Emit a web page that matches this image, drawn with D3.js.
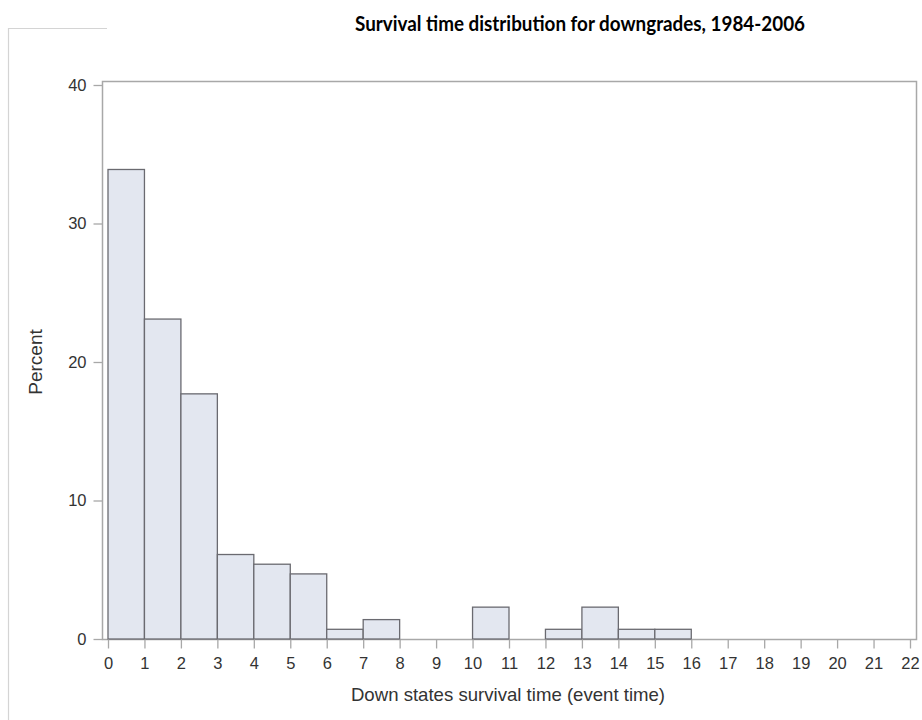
<!DOCTYPE html>
<html>
<head>
<meta charset="utf-8">
<script src="https://cdn.jsdelivr.net/npm/d3@7"></script>
<style>
  body { margin: 0; background: #fff; }
  svg { display: block; }
</style>
</head>
<body>
<div id="chart"></div>
<script>
// histogram bins (event time, years) and percent of downgrades in each bin
const binStart = [0, 1, 2, 3, 4, 5, 6, 7, 8, 9, 10, 11, 12, 13, 14, 15];
const percent = [33.9, 23.1, 17.7, 6.1, 5.4, 4.7, 0.7, 1.4, 0, 0, 2.3, 0, 0.7, 2.3, 0.7, 0.7];
const xTicks = d3.range(0, 23);
const yTicks = [0, 10, 20, 30, 40];

const width = 922;
const height = 720;
const frame = {left: 102, right: 916, top: 81, bottom: 639};
const labelFont = '"Liberation Sans", Arial, sans-serif';

let svg = d3.select('#chart').append('svg')
  .attr('width', width)
  .attr('height', height);

let x = d3.scaleLinear().domain([0, 22]).range([108, 910]);
let y = d3.scaleLinear().domain([0, 40]).range([639, 85]);

// leftover bits of the outer border
svg.append('path')
  .attr('d', 'M8.5,720V28.5H107')
  .attr('fill', 'none')
  .attr('stroke', '#d4d4d4')
  .attr('stroke-width', 1.2);

svg.append('text')
  .attr('x', 580)
  .attr('y', 31)
  .attr('text-anchor', 'middle')
  .attr('font-family', 'Lato, "Open Sans", sans-serif')
  .attr('font-weight', 'bold')
  .attr('font-size', 21)
  .attr('textLength', 450)
  .attr('lengthAdjust', 'spacingAndGlyphs')
  .attr('fill', '#000')
  .text('Survival time distribution for downgrades, 1984-2006');

svg.append('rect')
  .attr('x', frame.left + 0.5)
  .attr('y', frame.top + 0.5)
  .attr('width', frame.right - frame.left)
  .attr('height', frame.bottom - frame.top)
  .attr('fill', 'none')
  .attr('stroke', '#a8a8a8')
  .attr('stroke-width', 1.5);

let bars = binStart.map((s, i) => ({x0: s, x1: s + 1, v: percent[i]}))
  .filter(d => d.v > 0);

svg.append('g').selectAll('rect')
  .data(bars)
  .join('rect')
  .attr('x', d => x(d.x0))
  .attr('y', d => y(d.v))
  .attr('width', d => x(d.x1) - x(d.x0))
  .attr('height', d => y(0) - y(d.v))
  .attr('fill', '#e3e7f0')
  .attr('stroke', '#6a6a70')
  .attr('stroke-width', 1.3);

let xAxis = svg.append('g')
  .attr('transform', `translate(0,${frame.bottom + 0.5})`)
  .call(d3.axisBottom(x).tickValues(xTicks).tickSize(9).tickSizeOuter(0).tickPadding(9));

let yAxis = svg.append('g')
  .attr('transform', `translate(${frame.left + 0.5},0)`)
  .call(d3.axisLeft(y).tickValues(yTicks).tickSize(9).tickSizeOuter(0).tickPadding(7));

[xAxis, yAxis].forEach(g => {
  g.select('.domain').remove();
  g.selectAll('line').attr('stroke', '#a8a8a8').attr('stroke-width', 1.3);
  g.selectAll('text')
    .attr('font-family', labelFont)
    .attr('font-size', 16.5)
    .attr('fill', '#333');
});

svg.append('text')
  .attr('x', 508)
  .attr('y', 701)
  .attr('text-anchor', 'middle')
  .attr('font-family', labelFont)
  .attr('font-size', 18.6)
  .attr('fill', '#333')
  .text('Down states survival time (event time)');

svg.append('text')
  .attr('transform', 'translate(42,362) rotate(-90)')
  .attr('text-anchor', 'middle')
  .attr('font-family', labelFont)
  .attr('font-size', 19)
  .attr('fill', '#333')
  .text('Percent');
</script>
</body>
</html>
